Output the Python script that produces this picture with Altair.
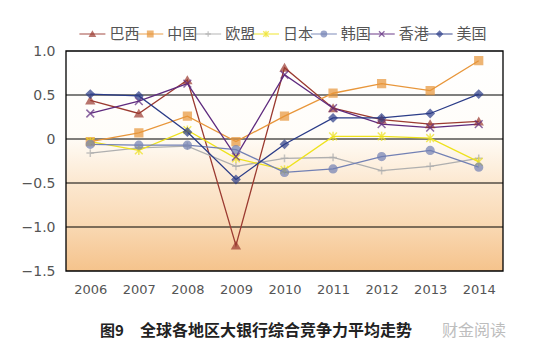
import altair as alt
import pandas as pd

years = ["2006", "2007", "2008", "2009", "2010", "2011", "2012", "2013", "2014"]
series_names = ["巴西", "中国", "欧盟", "日本", "韩国", "香港", "美国"]
brazil = [0.44, 0.29, 0.67, -1.21, 0.81, 0.35, 0.22, 0.17, 0.20]
china = [-0.03, 0.07, 0.26, -0.03, 0.26, 0.52, 0.63, 0.55, 0.89]
eu = [-0.16, -0.10, -0.08, -0.31, -0.22, -0.21, -0.36, -0.31, -0.22]
japan = [-0.03, -0.13, 0.10, -0.22, -0.35, 0.03, 0.03, 0.01, -0.26]
korea = [-0.06, -0.07, -0.07, -0.12, -0.38, -0.34, -0.20, -0.13, -0.32]
hongkong = [0.29, 0.43, 0.63, -0.20, 0.73, 0.35, 0.17, 0.13, 0.17]
usa = [0.51, 0.49, 0.08, -0.46, -0.06, 0.24, 0.24, 0.29, 0.51]
grid_values = [-1.0, -0.5, 0.0, 0.5]
colors = ["#9B3A30", "#E8963A", "#AFAFAF", "#EEE21C", "#7280B4", "#5E2A7E", "#2B3C88"]
fills = ["#9B3A30", "#E8963A", "transparent", "transparent", "#7280B4", "transparent", "#2B3C88"]
shape_paths = ["triangle-up", "square", "M-1,0H1M0,-1V1",
               "M-1,-1L1,1M-1,1L1,-1M0,-1.2V1.2", "circle",
               "M-1,-1L1,1M-1,1L1,-1", "diamond"]

values = [brazil, china, eu, japan, korea, hongkong, usa]
rows = []
for name, vals in zip(series_names, values):
    for y, v in zip(years, vals):
        rows.append({"year": y, "series": name, "value": v})
df = pd.DataFrame(rows)
legend_df = pd.DataFrame({"series": series_names})

W, H = 437, 220
xscale = alt.Scale(domain=years, padding=0.5)
yscale = alt.Scale(domain=[-1.5, 1.0], nice=False, zero=False)
cscale = alt.Scale(domain=series_names, range=colors)
fscale = alt.Scale(domain=series_names, range=fills)
sscale = alt.Scale(domain=series_names, range=shape_paths)
yaxis = alt.Axis(
    title=None, values=[-1.5, -1.0, -0.5, 0, 0.5, 1.0], ticks=False, domain=False,
    grid=False,
    labelExpr="datum.value == 0 ? '0' : format(datum.value, '.1f')",
    labelFontSize=14, labelColor="#555555", labelPadding=11, labelFont="DejaVu Sans")
xaxis = alt.Axis(
    title=None, labelAngle=0, ticks=False, domain=False, labelFontSize=13,
    labelColor="#555555", labelPadding=12, labelFont="DejaVu Sans")

bounds = pd.DataFrame({"a": [1.0], "b": [-1.5]})
bg = alt.Chart(bounds).mark_rect(
    fill=alt.Gradient(
        gradient="linear", x1=0, x2=0, y1=0, y2=1,
        stops=[
            alt.GradientStop(offset=0, color="#FFFFFF"),
            alt.GradientStop(offset=0.38, color="#FFFDF9"),
            alt.GradientStop(offset=0.6, color="#FCE8D0"),
            alt.GradientStop(offset=0.8, color="#F9D8B2"),
            alt.GradientStop(offset=1, color="#F5C38C"),
        ],
    )
).encode(
    x=alt.value(0), x2=alt.value(W),
    y=alt.Y("a:Q", scale=yscale, axis=yaxis), y2="b:Q",
)

grid = alt.Chart(pd.DataFrame({"g": grid_values})).mark_rule(
    color="#000000", strokeWidth=1.2).encode(
    x=alt.value(0), x2=alt.value(W),
    y=alt.Y("g:Q", scale=yscale, axis=yaxis))

base = alt.Chart(df)
lines = base.mark_line(strokeWidth=1.3).encode(
    x=alt.X("year:O", scale=xscale, axis=xaxis),
    y=alt.Y("value:Q", scale=yscale, axis=yaxis),
    color=alt.Color("series:N", scale=cscale, legend=None),
    detail="series:N",
)
points = base.mark_point(filled=False, size=60, strokeWidth=1.5).encode(
    x=alt.X("year:O", scale=xscale, axis=xaxis),
    y=alt.Y("value:Q", scale=yscale, axis=yaxis),
    color=alt.Color("series:N", scale=cscale, legend=None),
    fill=alt.Fill("series:N", scale=fscale, legend=None),
    shape=alt.Shape("series:N", scale=sscale, legend=None),
)

frame = alt.Chart(bounds).mark_rect(
    fill=None, stroke="#000000", strokeWidth=1.3).encode(
    x=alt.value(0), x2=alt.value(W),
    y=alt.Y("a:Q", scale=yscale, axis=yaxis), y2="b:Q")

title_a = alt.Chart(pd.DataFrame({"t": ["图9"]})).mark_text(
    align="left", baseline="middle", fontSize=15, fontWeight="bold",
    color="#222222", font="Noto Sans CJK SC").encode(
    x=alt.value(34), y=alt.value(280), text="t:N")
title_b = alt.Chart(pd.DataFrame({"t": ["全球各地区大银行综合竞争力平均走势"]})).mark_text(
    align="left", baseline="middle", fontSize=16, fontWeight="bold",
    color="#222222", font="Noto Sans CJK SC").encode(
    x=alt.value(74), y=alt.value(280), text="t:N")
wm = alt.Chart(pd.DataFrame({"t": ["财金阅读"]})).mark_text(
    align="left", baseline="middle", fontSize=16,
    color="#BDBDBD", font="Noto Sans CJK SC").encode(
    x=alt.value(376), y=alt.value(280), text="t:N")

main = alt.layer(bg, grid, lines, points, frame, title_a, title_b, wm)

lx = alt.X("series:N", sort=series_names,
           scale=alt.Scale(domain=series_names, range=[-17, 417], padding=0.5), axis=None)
leg_line = alt.Chart(legend_df).mark_tick(orient="horizontal", size=26, thickness=1.3).encode(
    x=lx, y=alt.value(-17), color=alt.Color("series:N", scale=cscale, legend=None))
leg_pt = alt.Chart(legend_df).mark_point(size=30, strokeWidth=1.3, filled=False).encode(
    x=lx, y=alt.value(-17), color=alt.Color("series:N", scale=cscale, legend=None),
    fill=alt.Fill("series:N", scale=fscale, legend=None),
    shape=alt.Shape("series:N", scale=sscale, legend=None))
leg_txt = alt.Chart(legend_df).mark_text(
    align="left", baseline="middle", dx=17, fontSize=15,
    color="#555555", font="Noto Sans CJK SC").encode(
    x=lx, y=alt.value(-17), text="series:N")
legend = alt.layer(leg_line, leg_pt, leg_txt)

chart = alt.layer(main, legend).resolve_scale(
    x="independent"
).properties(
    width=W, height=H,
    autosize=alt.AutoSizeParams(type="none"),
    padding={"left": 58, "top": 43, "right": 20, "bottom": 80},
).configure_view(stroke=None)

chart.save("out.html", embed_options={"renderer": "svg", "actions": False})
